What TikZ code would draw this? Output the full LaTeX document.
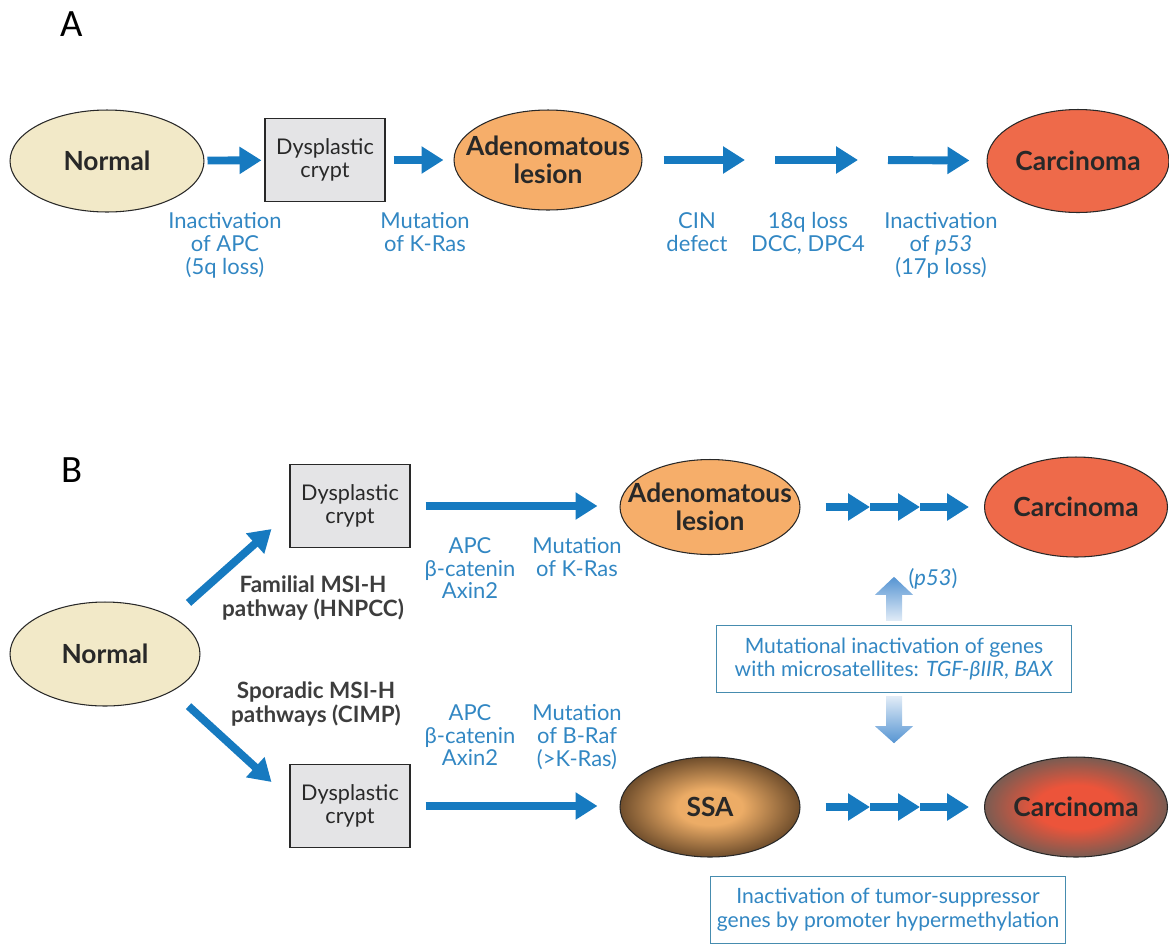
\documentclass[tikz,border=0pt]{standalone}
\usepackage{fontspec}
\setmainfont{Lato}
\newfontfamily\tagfont{Carlito}
\usepackage{tikz}
\usetikzlibrary{arrows.meta,shapes.geometric}
\definecolor{flowblue}{RGB}{22,122,192}
\definecolor{txtblue}{RGB}{50,135,195}
\definecolor{boxline}{RGB}{70,140,175}
\definecolor{normfill}{RGB}{242,233,200}
\definecolor{cryptfill}{RGB}{228,228,230}
\definecolor{adenfill}{RGB}{246,174,106}
\definecolor{carcfill}{RGB}{238,106,74}
\definecolor{ssain}{RGB}{236,172,102}
\definecolor{ssaout}{RGB}{112,78,44}
\definecolor{carcin}{RGB}{236,84,58}
\definecolor{carcout}{RGB}{122,92,82}
\definecolor{darktxt}{RGB}{40,40,40}
\definecolor{hintblue}{RGB}{85,148,210}
\definecolor{paleblue}{RGB}{225,236,247}
\pgfdeclareradialshading{ssaglow}{\pgfpoint{0bp}{0bp}}{color(0bp)=(ssain); color(9bp)=(ssain); color(25bp)=(ssaout); color(50bp)=(ssaout)}
\pgfdeclareradialshading{carcglow}{\pgfpoint{0bp}{0bp}}{color(0bp)=(carcin); color(11bp)=(carcin); color(25bp)=(carcout); color(50bp)=(carcout)}

\begin{document}
\begin{tikzpicture}[x=0.02cm,y=-0.02cm,
  stage/.style={ellipse,draw=darktxt,line width=0.6pt,inner xsep=-0.7cm,inner ysep=-0.3cm,minimum width=3.66cm,minimum height=2cm,
    font=\fontsize{15}{16}\selectfont\bfseries,text=darktxt,align=center},
  crypt/.style={rectangle,draw=darktxt,fill=cryptfill,line width=0.6pt,minimum width=2.4cm,minimum height=1.66cm,
    inner sep=0pt,font=\fontsize{12.3}{13}\selectfont,text=darktxt,align=center},
  note/.style={text=txtblue,font=\fontsize{12.5}{13}\selectfont,align=center,anchor=north,inner sep=0pt},
  route/.style={text=darktxt!90,font=\fontsize{12.8}{13.6}\selectfont\bfseries,align=center,inner sep=0pt},
  flow/.style={draw=flowblue,line width=4.5pt,-{Triangle[length=0.44cm,width=0.52cm]}},
  infobox/.style={draw=boxline,line width=0.8pt,fill=white,text=txtblue,minimum width=7.1cm,minimum height=1.34cm,
    font=\fontsize{12}{13.6}\selectfont,align=center},
  panel/.style={font=\tagfont\fontsize{22}{24}\selectfont}
]
\useasboundingbox (0,0) rectangle (1169,944);

%% panel A
\node[panel] (tagA) at (72,24) {A};
\node[stage,fill=normfill,minimum width=3.88cm,minimum height=2.04cm] (normA) at (107,161) {Normal};
\node[crypt] (cryptA) at (325,160) {Dysplastic\\crypt};
\node[stage,fill=adenfill,minimum width=3.76cm] (adenA) at (548,160) {Adenomatous\\lesion};
\node[stage,fill=carcfill,minimum width=3.64cm,minimum height=2.06cm] (carcA) at (1078,161) {Carcinoma};
\coordinate (cinA) at (760,160);
\coordinate (lossA) at (873,160);

\draw[flow,shorten <=0.06cm,shorten >=0.06cm] (normA) -- (cryptA);
\draw[flow,shorten <=0.16cm,shorten >=0.2cm] (cryptA) -- (adenA);
\draw[flow,shorten <=0.42cm,shorten >=0.3cm] (adenA) -- (cinA);
\draw[flow,shorten <=0.3cm,shorten >=0.3cm] (cinA) -- (lossA);
\draw[flow,shorten <=0.3cm,shorten >=0.34cm] (lossA) -- (carcA);

\node[note] (apcA) at (225,212) {Inactivation\\of APC\\(5q loss)};
\node[note] (krasA) at (425,212) {Mutation\\of K-Ras};
\node[note] (cinTxt) at (697,212) {CIN\\defect};
\node[note] (dccA) at (808,212) {18q loss\\DCC, DPC4};
\node[note] (p53A) at (941,212) {Inactivation\\of \textit{p53}\\(17p loss)};

%% panel B
\node[panel] (tagB) at (72,470) {B};
\node[stage,fill=normfill,minimum width=3.8cm,minimum height=2.08cm] (normB) at (105,654) {Normal};
\node[crypt] (cryptF) at (350,506) {Dysplastic\\crypt};
\node[crypt] (cryptS) at (350,806) {Dysplastic\\crypt};
\node[stage,fill=adenfill,minimum width=3.6cm,minimum height=1.9cm] (adenB) at (710,507) {Adenomatous\\lesion};
\node[stage,fill=carcfill] (carcF) at (1076,507) {Carcinoma};
\node[stage,shading=ssaglow,minimum width=3.6cm] (ssa) at (710,807) {SSA};
\node[stage,shading=carcglow] (carcS) at (1076,807) {Carcinoma};
\coordinate (famA) at (870,507);
\coordinate (famB) at (920,507);
\coordinate (spoA) at (870,807);
\coordinate (spoB) at (920,807);

\draw[flow] ([shift={(16,-14)}]normB.north east) -- ([shift={(-18,-19)}]cryptF.south west);
\draw[flow] ([shift={(16,15)}]normB.south east) -- ([shift={(-18,18)}]cryptS.north west);
\node[route] (famTxt) at (313,598) {Familial MSI-H\\pathway (HNPCC)};
\node[route] (spoTxt) at (316,704) {Sporadic MSI-H\\pathways (CIMP)};

\draw[flow,shorten <=0.3cm,shorten >=0.44cm] (cryptF.east) -- (cryptF.east -| adenB.west);
\draw[flow,shorten <=0.5cm] (adenB) -- (famA);
\draw[flow] (famA) -- (famB);
\draw[flow,shorten >=0.3cm] (famB) -- (carcF);
\draw[flow,shorten <=0.3cm,shorten >=0.44cm] (cryptS.east) -- (cryptS.east -| ssa.west);
\draw[flow,shorten <=0.5cm] (ssa) -- (spoA);
\draw[flow] (spoA) -- (spoB);
\draw[flow,shorten >=0.3cm] (spoB) -- (carcS);

\node[note] (apcF) at (470,537) {APC\\β-catenin\\Axin2};
\node[note] (krasF) at (577,537) {Mutation\\of K-Ras};
\node[note] (p53F) at (933,568) {(\textit{p53})};
\node[note] (apcS) at (470,704) {APC\\β-catenin\\Axin2};
\node[note] (brafS) at (577,704) {Mutation\\of B-Raf\\(>K-Ras)};

\node[infobox] (msiBox) at (894,659) {Mutational inactivation of genes\\with microsatellites: \textit{TGF-βIIR}, \textit{BAX}};
\node[infobox] (methBox) at (888,910) {Inactivation of tumor-suppressor\\genes by promoter hypermethylation};

% faded arrows
\shade[top color=hintblue,bottom color=paleblue] ([shift={(-8,-4)}]msiBox.north) -- ++(0,-26) -- ++(-11,0)
  -- ++(19,-18) -- ++(19,18) -- ++(-11,0) -- ++(0,26) -- cycle;
\shade[top color=paleblue,bottom color=hintblue] ([shift={(-8,3)}]msiBox.south) -- ++(0,30) -- ++(-11,0)
  -- ++(19,17) -- ++(19,-17) -- ++(-11,0) -- ++(0,-30) -- cycle;
\end{tikzpicture}
\end{document}
